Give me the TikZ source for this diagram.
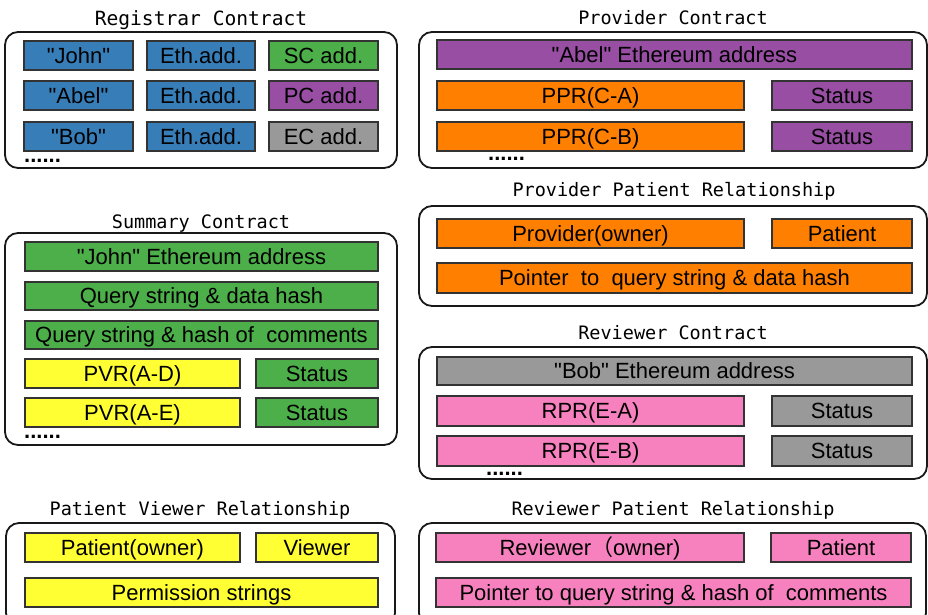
\documentclass[tikz,border=0pt]{standalone}
\usepackage{fontspec}
\setmainfont{Liberation Sans}[Ligatures=TeXOff]
\newfontfamily\titlefont{DejaVu Sans Mono}
\newfontfamily\cjkfont{Noto Sans CJK SC}
\definecolor{cblue}{HTML}{377EB8}
\definecolor{cgreen}{HTML}{4DAF4A}
\definecolor{cpurple}{HTML}{984EA3}
\definecolor{corange}{HTML}{FF7F00}
\definecolor{cyellow}{HTML}{FFFF33}
\definecolor{cpink}{HTML}{F781BF}
\definecolor{cgray}{HTML}{999999}
\newcommand\mkcell[7]{\node[#2, minimum width={(#5-#3)*1pt}, minimum height={(#6-#4)*1pt}] (#1) at ({(#3+#5)/2},{(#4+#6)/2}) {#7};}
\tikzset{
  cell/.style={draw=black!80, line width=1.3pt, inner sep=0pt, text height=15.75pt, text depth=0pt, font=\fontsize{22}{24}\selectfont},
  outerbox/.style={draw=black!90, line width=1.8pt, rounded corners=13pt, inner sep=0pt},
  ttl/.style={inner sep=0pt, text height=13.5pt, text depth=0pt, font=\titlefont\fontsize{18.5}{20}\selectfont},
  dotrow/.style={inner sep=0pt, anchor=base west, font=\bfseries\fontsize{22}{24}\selectfont}
}
\begin{document}
\begin{tikzpicture}[x=1pt,y=-1pt]
\useasboundingbox (0,0) rectangle (928,614);
\clip (0,0) rectangle (928,614);
% Registrar Contract
\mkcell{rego}{outerbox}{5}{32}{397}{168}{}
\node[ttl, font=\titlefont\fontsize{19.6}{21}\selectfont, text height=14.2pt] (regt) at (201,18) {Registrar Contract};
\mkcell{r11}{cell,fill=cblue}{24}{41}{133}{70}{"John"}
\mkcell{r12}{cell,fill=cblue}{147}{41}{255}{70}{Eth.add.}
\mkcell{r13}{cell,fill=cgreen}{269}{41}{378}{70}{SC add.}
\mkcell{r21}{cell,fill=cblue}{24}{81}{133}{110}{"Abel"}
\mkcell{r22}{cell,fill=cblue}{147}{81}{255}{110}{Eth.add.}
\mkcell{r23}{cell,fill=cpurple}{269}{81}{378}{110}{PC add.}
\mkcell{r31}{cell,fill=cblue}{24}{122}{133}{151}{"Bob"}
\mkcell{r32}{cell,fill=cblue}{147}{122}{255}{151}{Eth.add.}
\mkcell{r33}{cell,fill=cgray}{269}{122}{378}{151}{EC add.}
\node[dotrow] (rdots) at (24,162) {......};
% Provider Contract
\mkcell{provo}{outerbox}{419}{32}{927}{168}{}
\node[ttl] (provt) at (673,18) {Provider Contract};
\mkcell{p1}{cell,fill=cpurple}{437}{40}{912}{69}{"Abel" Ethereum address}
\mkcell{p21}{cell,fill=corange}{437}{81}{744}{110}{PPR(C-A)}
\mkcell{p22}{cell,fill=cpurple}{772}{81}{912}{110}{Status}
\mkcell{p31}{cell,fill=corange}{437}{122}{744}{151}{PPR(C-B)}
\mkcell{p32}{cell,fill=cpurple}{772}{122}{912}{151}{Status}
\node[dotrow] (pdots) at (488,160) {......};
% Summary Contract
\mkcell{sumo}{outerbox}{5}{233}{397}{445}{}
\node[ttl] (sumt) at (201,221.5) {Summary Contract};
\mkcell{s1}{cell,fill=cgreen}{25}{242}{378}{271}{"John" Ethereum address}
\mkcell{s2}{cell,fill=cgreen}{25}{282}{378}{310}{Query string \& data hash}
\mkcell{s3}{cell,fill=cgreen}{25}{321}{378}{349}{Query string \& hash of\ \ comments}
\mkcell{s41}{cell,fill=cyellow}{25}{359}{240}{388}{PVR(A-D)}
\mkcell{s42}{cell,fill=cgreen}{256}{359}{378}{388}{Status}
\mkcell{s51}{cell,fill=cyellow}{25}{398}{240}{427}{PVR(A-E)}
\mkcell{s52}{cell,fill=cgreen}{256}{398}{378}{427}{Status}
\node[dotrow] (sdots) at (24,438) {......};
% Provider Patient Relationship
\mkcell{ppro}{outerbox}{419}{206}{927}{306}{}
\node[ttl] (pprt) at (674,190) {Provider Patient Relationship};
\mkcell{q1}{cell,fill=corange}{437}{219}{744}{248}{Provider(owner)}
\mkcell{q2}{cell,fill=corange}{772}{219}{912}{248}{Patient}
\mkcell{q3}{cell,fill=corange}{437}{263}{912}{293}{Pointer\ \ to\ \ query string \& data hash}
% Reviewer Contract
\mkcell{revo}{outerbox}{419}{347}{927}{479}{}
\node[ttl] (revt) at (673,332.5) {Reviewer Contract};
\mkcell{v1}{cell,fill=cgray}{437}{357}{912}{385}{"Bob" Ethereum address}
\mkcell{v21}{cell,fill=cpink}{437}{396}{744}{426}{RPR(E-A)}
\mkcell{v22}{cell,fill=cgray}{772}{396}{912}{426}{Status}
\mkcell{v31}{cell,fill=cpink}{437}{436}{744}{466}{RPR(E-B)}
\mkcell{v32}{cell,fill=cgray}{772}{436}{912}{466}{Status}
\node[dotrow] (vdots) at (486,475) {......};
% Patient Viewer Relationship
\mkcell{pvro}{outerbox}{6}{523}{395}{626}{}
\node[ttl] (pvrt) at (200,509) {Patient Viewer Relationship};
\mkcell{w1}{cell,fill=cyellow}{25}{533}{240}{562}{Patient(owner)}
\mkcell{w2}{cell,fill=cyellow}{256}{533}{378}{562}{Viewer}
\mkcell{w3}{cell,fill=cyellow}{25}{578}{378}{607}{Permission strings}
% Reviewer Patient Relationship
\mkcell{rpro}{outerbox}{419}{523}{926}{626}{}
\node[ttl] (rprt) at (673,509) {Reviewer Patient Relationship};
\mkcell{x1}{cell,fill=cpink}{436}{533}{744}{562}{Reviewer{\cjkfont （}owner)}
\mkcell{x2}{cell,fill=cpink}{771}{533}{911}{562}{Patient}
\mkcell{x3}{cell,fill=cpink}{436}{578}{911}{607}{Pointer to query string \& hash of\ \ comments}
\end{tikzpicture}
\end{document}
